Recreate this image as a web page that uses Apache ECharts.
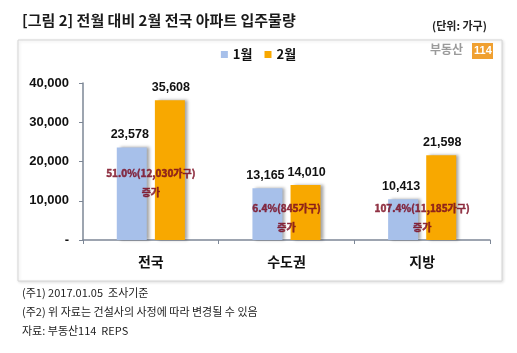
<!DOCTYPE html>
<html>
<head>
<meta charset="utf-8">
<script src="https://cdn.jsdelivr.net/npm/echarts@6/dist/echarts.min.js"></script>
<style>
  html, body { margin: 0; padding: 0; background: #fff; }
  #chart { width: 517px; height: 353px; }
</style>
</head>
<body>
<div id="chart"></div>
<script>
// 지역 구분
var regions = ['전국', '수도권', '지방'];
// 1월, 2월 입주물량 (가구)
var jan = [23578, 13165, 10413];
var feb = [35608, 14010, 21598];
// 증감 설명 (막대 사이)
var notes = ['51.0%(12,030가구)\n증가', '6.4%(845가구)\n증가', '107.4%(11,185가구)\n증가'];
var noteY = [14650, 5600, 5600];

var KR = '"Noto Sans CJK KR", sans-serif';
var NUM = '"Liberation Sans", Arial, sans-serif';

var chart = echarts.init(document.getElementById('chart'));

function fmt(v) {
    if (v == 0) return '-';
    return v.toString().replace(/\B(?=(\d{3})+(?!\d))/g, ',');
}

var barShadow = {
    shadowColor: 'rgba(0,0,0,0.35)',
    shadowBlur: 3,
    shadowOffsetX: 3,
    shadowOffsetY: 0
};

var noteData = [];
for (var i = 0; i < regions.length; i++) {
    noteData.push([regions[i], noteY[i]]);
}

function valueLabel(dx) {
    return {
        show: true, position: 'top', distance: 6, offset: [dx, 0],
        fontFamily: NUM, fontWeight: 'bold', fontSize: 12.5, color: '#111',
        formatter: function (p) { return fmt(p.value); }
    };
}

var option = {
    backgroundColor: '#fff',
    animation: false,
    graphic: [
        { type: 'rect', shape: { x: 18, y: 40, width: 484, height: 241 },
          style: { fill: '#fff', stroke: '#d6d6d6', lineWidth: 1, shadowColor: 'rgba(0,0,0,0.12)', shadowBlur: 3, shadowOffsetX: 1, shadowOffsetY: 1 }, z: -10 },
        { type: 'text', left: 22, top: 13,
          style: { text: '[그림 2] 전월 대비 2월 전국 아파트 입주물량', font: 'bold 15px ' + KR, fill: '#1a1a1a' } },
        { type: 'text', left: 432, top: 20,
          style: { text: '(단위: 가구)', font: 'bold 11px ' + KR, fill: '#222' } },
        { type: 'text', left: 430, top: 43,
          style: { text: '부동산', font: 'bold 12px ' + KR, fill: '#9a9a9a' } },
        { type: 'rect', shape: { x: 472, y: 43, width: 21, height: 16 }, style: { fill: '#f0a030' } },
        { type: 'text', left: 474, top: 45,
          style: { text: '114', font: 'bold 11px ' + NUM, fill: '#fff' } },
        { type: 'text', left: 22, top: 287,
          style: { text: '(주1) 2017.01.05  조사기준', font: '11px ' + KR, fill: '#222' } },
        { type: 'text', left: 22, top: 306,
          style: { text: '(주2) 위 자료는 건설사의 사정에 따라 변경될 수 있음', font: '11px ' + KR, fill: '#222' } },
        { type: 'text', left: 22, top: 325,
          style: { text: '자료: 부동산114  REPS', font: '11px ' + KR, fill: '#222' } }
    ],
    legend: {
        data: ['1월', '2월'],
        top: 43,
        left: 'center',
        itemWidth: 7,
        itemHeight: 7,
        itemGap: 12,
        icon: 'rect',
        textStyle: { fontFamily: KR, fontWeight: 'bold', fontSize: 13, color: '#111' }
    },
    grid: { left: 83, right: 27, top: 83, bottom: 113, containLabel: false },
    xAxis: {
        type: 'category',
        data: regions,
        axisLine: { lineStyle: { color: '#7d8796', width: 1.5 } },
        axisTick: { show: true, length: 4, lineStyle: { color: '#7d8796' } },
        axisLabel: { margin: 15, fontFamily: KR, fontWeight: 'bold', fontSize: 14, color: '#111' }
    },
    yAxis: {
        type: 'value',
        min: 0,
        max: 40000,
        interval: 10000,
        axisLine: { show: true, lineStyle: { color: '#7d8796', width: 1.5 } },
        axisTick: { show: true, length: 4, lineStyle: { color: '#7d8796' } },
        splitLine: { show: false },
        axisLabel: { margin: 14, fontFamily: NUM, fontWeight: 'bold', fontSize: 13, color: '#111', formatter: fmt }
    },
    series: [
        {
            name: '1월', type: 'bar', data: jan, barWidth: 30, barGap: '27%',
            itemStyle: Object.assign({ color: '#a7c0ea' }, barShadow),
            label: valueLabel(-2)
        },
        {
            name: '2월', type: 'bar', data: feb, barWidth: 30,
            itemStyle: Object.assign({ color: '#f8a800' }, barShadow),
            label: valueLabel(1)
        },
        {
            name: 'note', type: 'scatter', data: noteData, symbolSize: 1, z: 5,
            itemStyle: { color: 'rgba(0,0,0,0)' },
            label: {
                show: true, position: 'inside', fontFamily: KR, fontWeight: 'bold', fontSize: 10,
                lineHeight: 19, color: '#7a0a1f', align: 'center',
                textBorderColor: '#7a0a1f', textBorderWidth: 0.5,
                formatter: function (p) { return notes[p.dataIndex]; }
            }
        }
    ]
};

chart.setOption(option);
</script>
</body>
</html>
